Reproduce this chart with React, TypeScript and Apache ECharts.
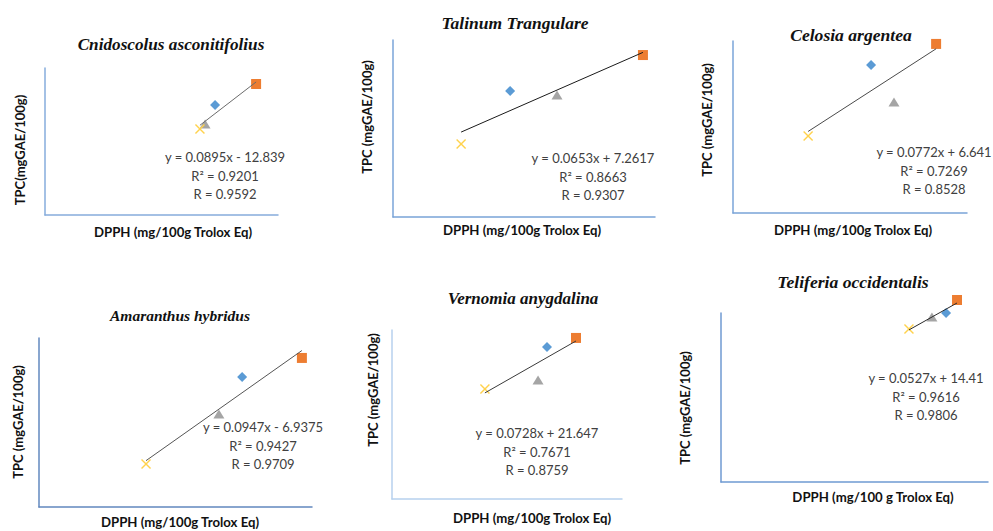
import React, { useEffect, useRef } from 'react';
import * as echarts from 'echarts';

// Panel titles and texts
const titles = [
  'Cnidoscolus asconitifolius',
  'Talinum Trangulare',
  'Celosia argentea',
  'Amaranthus hybridus',
  'Vernomia anygdalina',
  'Teliferia occidentalis',
];
const yLabels = [
  'TPC(mgGAE/100g)',
  'TPC (mgGAE/100g)',
  'TPC (mgGAE/100g)',
  'TPC (mgGAE/100g)',
  'TPC (mgGAE/100g)',
  'TPC (mgGAE/100g)',
];
const xLabels = [
  'DPPH (mg/100g Trolox Eq)',
  'DPPH (mg/100g Trolox Eq)',
  'DPPH (mg/100g Trolox Eq)',
  'DPPH (mg/100g Trolox Eq)',
  'DPPH (mg/100g Trolox Eq)',
  'DPPH (mg/100 g Trolox Eq)',
];
const equations = [
  'y = 0.0895x - 12.839',
  'y = 0.0653x + 7.2617',
  'y = 0.0772x + 6.641',
  'y = 0.0947x - 6.9375',
  'y = 0.0728x + 21.647',
  'y = 0.0527x + 14.41',
];
const r2Values = ['0.9201', '0.8663', '0.7269', '0.9427', '0.7671', '0.9616'];
const rValues = ['0.9592', '0.9307', '0.8528', '0.9709', '0.8759', '0.9806'];

// Point values (relative position on each unlabelled axis, 0-100)
// order: square, diamond, triangle, cross
const cnidoscolusX = [90.6, 73.0, 68.7, 66.5];
const cnidoscolusY = [89.1, 74.8, 61.9, 58.5];
const talinumX = [95.4, 44.7, 62.6, 26.0];
const talinumY = [91.5, 71.2, 68.9, 41.2];
const celosiaX = [86.8, 59.0, 68.8, 32.1];
const celosiaY = [98.3, 86.0, 64.5, 44.8];
const amaranthusX = [96.3, 74.4, 65.9, 39.2];
const amaranthusY = [88.2, 76.9, 55.0, 25.4];
const vernomiaX = [80.0, 67.4, 63.5, 40.4];
const vernomiaY = [95.3, 89.9, 70.4, 65.1];
const teliferiaX = [88.4, 84.3, 79.0, 70.4];
const teliferiaY = [107.7, 100.0, 97.6, 90.5];

const panelX = [cnidoscolusX, talinumX, celosiaX, amaranthusX, vernomiaX, teliferiaX];
const panelY = [cnidoscolusY, talinumY, celosiaY, amaranthusY, vernomiaY, teliferiaY];

// Layout (pixels)
const layout = [
  { grid: [45, 68, 233, 147], title: [171, 44], ts: 17.2, yl: [20, 150], xl: [173, 232], eq: [225, 157], axis: '#86acdc', trend: '#6b6b6b' },
  { grid: [393, 40, 262, 177], title: [515, 23], ts: 17.5, yl: [367, 117], xl: [522, 230], eq: [593, 158], axis: '#7aa4d8', trend: '#1a1a1a' },
  { grid: [733, 41, 234, 172], title: [851, 35], ts: 17.6, yl: [707, 120], xl: [853, 230], eq: [934, 152], axis: '#7aa4d8', trend: '#4a4a4a' },
  { grid: [39, 338, 273, 169], title: [180, 315], ts: 15.5, yl: [18, 422], xl: [180, 522], eq: [263, 427], axis: '#6288bf', trend: '#555555' },
  { grid: [392, 330, 230, 169], title: [523, 298], ts: 17, yl: [373, 390], xl: [532, 518], eq: [537, 433], axis: '#b7d1ee', trend: '#3a3a3a' },
  { grid: [721, 313, 267, 169], title: [853, 282], ts: 17.6, yl: [685, 408], xl: [873, 497], eq: [926, 378], axis: '#6f9ad2', trend: '#2a2a2a' },
];

const markers = [
  { symbol: 'rect', size: 10, color: '#ed7d31' },
  { symbol: 'diamond', size: 10, color: '#5b9bd5' },
  { symbol: 'triangle', size: [11, 9], color: '#a5a5a5' },
  {
    symbol: 'path://M0,1L1,0L5,4L9,0L10,1L6,5L10,9L9,10L5,6L1,10L0,9L4,5Z',
    size: 10,
    color: '#ffd24d',
  },
];

function trendEnds(xs: number[], ys: number[]) {
  const n = xs.length;
  const mx = xs.reduce((a, b) => a + b, 0) / n;
  const my = ys.reduce((a, b) => a + b, 0) / n;
  let sxy = 0;
  let sxx = 0;
  for (let i = 0; i < n; i++) {
    sxy += (xs[i] - mx) * (ys[i] - my);
    sxx += (xs[i] - mx) * (xs[i] - mx);
  }
  const b = sxy / sxx;
  const a = my - b * mx;
  const x0 = Math.min(...xs);
  const x1 = Math.max(...xs);
  return [
    [x0, a + b * x0],
    [x1, a + b * x1],
  ];
}

export default function App() {
  const ref = useRef<HTMLDivElement>(null);
  useEffect(() => {
    if (!ref.current) return;
    const chart = echarts.init(ref.current, null, { renderer: 'svg' });
    const grids: any[] = [];
    const xAxes: any[] = [];
    const yAxes: any[] = [];
    const series: any[] = [];
    const graphics: any[] = [];
    const labelFont = 'Lato, "Open Sans", sans-serif';
    const eqLine = 18.5;

    layout.forEach((p, i) => {
      const [l, t, w, h] = p.grid;
      grids.push({ left: l, top: t, width: w, height: h, containLabel: false });
      const axisCommon = {
        type: 'value',
        min: 0,
        max: 100,
        gridIndex: i,
        axisLine: { show: true, lineStyle: { color: p.axis, width: 1.5 } },
        axisTick: { show: false },
        axisLabel: { show: false },
        splitLine: { show: false },
      };
      xAxes.push({ ...axisCommon });
      yAxes.push({ ...axisCommon });

      markers.forEach((m, k) => {
        series.push({
          type: 'scatter',
          xAxisIndex: i,
          yAxisIndex: i,
          symbol: m.symbol,
          symbolSize: m.size,
          clip: false,
          itemStyle: { color: m.color, opacity: 1 },
          data: [[panelX[i][k], panelY[i][k]]],
          z: 2,
        });
      });
      series.push({
        type: 'line',
        xAxisIndex: i,
        yAxisIndex: i,
        showSymbol: false,
        symbol: 'none',
        clip: false,
        lineStyle: { color: p.trend, width: 1 },
        data: trendEnds(panelX[i], panelY[i]),
        z: 3,
      });

      graphics.push({
        type: 'text',
        x: p.title[0],
        y: p.title[1],
        style: {
          text: titles[i],
          fill: '#111',
          font: `italic bold ${p.ts}px "Liberation Serif", "DejaVu Serif", serif`,
          textAlign: 'center',
          textVerticalAlign: 'middle',
        },
      });
      graphics.push({
        type: 'text',
        x: p.xl[0],
        y: p.xl[1],
        style: {
          text: xLabels[i],
          fill: '#111',
          font: `bold 13.2px ${labelFont}`,
          textAlign: 'center',
          textVerticalAlign: 'middle',
        },
      });
      graphics.push({
        type: 'text',
        x: p.yl[0],
        y: p.yl[1],
        rotation: Math.PI / 2,
        style: {
          text: yLabels[i],
          fill: '#111',
          font: `bold 13px ${labelFont}`,
          textAlign: 'center',
          textVerticalAlign: 'middle',
        },
      });
      graphics.push({
        type: 'text',
        x: p.eq[0],
        y: p.eq[1] + eqLine,
        style: {
          text: `${equations[i]}\nR² = ${r2Values[i]}\nR = ${rValues[i]}`,
          fill: '#404040',
          font: `13px ${labelFont}`,
          lineHeight: eqLine,
          textAlign: 'center',
          textVerticalAlign: 'middle',
        },
      });
    });

    chart.setOption({
      animation: false,
      backgroundColor: '#ffffff',
      grid: grids,
      xAxis: xAxes,
      yAxis: yAxes,
      series,
      graphic: graphics,
    });
    return () => chart.dispose();
  }, []);
  return (
    <div
      ref={ref}
      style={{ position: 'fixed', left: 0, top: 0, width: 993, height: 531, background: '#fff' }}
    />
  );
}
